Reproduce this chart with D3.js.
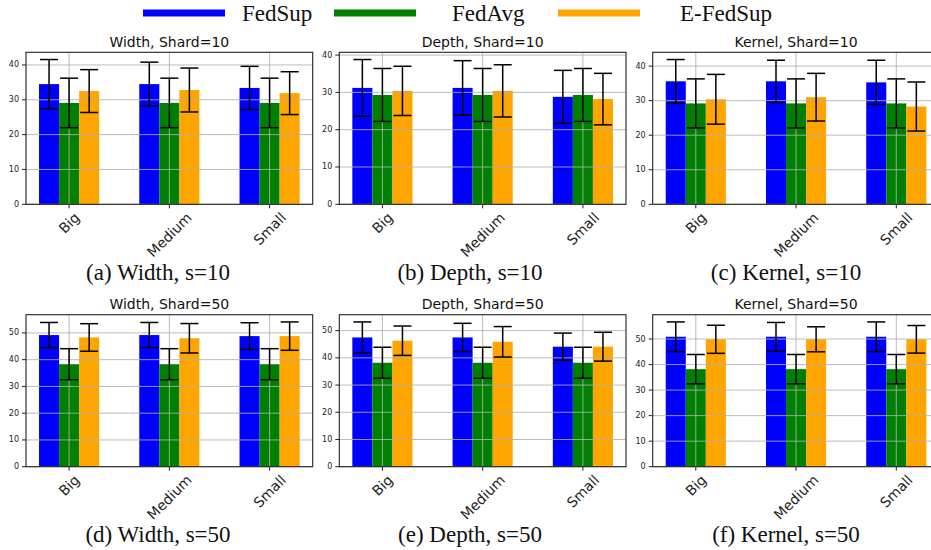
<!DOCTYPE html>
<html>
<head>
<meta charset="utf-8">
<script src="https://cdn.jsdelivr.net/npm/d3@7"></script>
<style>
body{margin:0;background:#fff;}
svg{display:block;}
</style>
</head>
<body>
<svg width="931" height="550"></svg>
<script>
// categories and series
var kategorie = ["Big", "Medium", "Small"];
var serie = ["FedSup", "FedAvg", "E-FedSup"];
var kolory = ["#0000ff", "#008000", "#ffa500"];

// mean values, one row per series (FedSup, FedAvg, E-FedSup), columns Big/Medium/Small
var width10 = [[34.5, 34.5, 33.4], [29.1, 29.1, 29.1], [32.5, 32.8, 31.9]];
var width10Err = [[7.05, 6.3, 6.2], [7.1, 7.1, 7.1], [6.15, 6.3, 6.15]];
var depth10 = [[31.2, 31.2, 28.8], [29.3, 29.3, 29.3], [30.4, 30.4, 28.2]];
var depth10Err = [[7.6, 7.3, 7.1], [7.1, 7.1, 7.1], [6.6, 7.0, 6.9]];
var kernel10 = [[35.6, 35.6, 35.3], [29.2, 29.2, 29.2], [30.4, 31.0, 28.3]];
var kernel10Err = [[6.3, 6.1, 6.4], [7.1, 7.1, 7.1], [7.2, 6.9, 7.1]];
var width50 = [[49.2, 49.2, 48.8], [38.3, 38.3, 38.3], [48.3, 48.0, 48.8]];
var width50Err = [[4.7, 4.7, 5.0], [5.8, 5.8, 5.8], [5.15, 5.5, 5.3]];
var depth50 = [[47.5, 47.5, 44.1], [38.2, 38.2, 38.2], [46.3, 45.9, 44.1]];
var depth50Err = [[5.7, 5.2, 5.0], [5.7, 5.7, 5.7], [5.4, 5.6, 5.3]];
var kernel50 = [[50.9, 50.9, 50.9], [38.2, 38.2, 38.2], [49.9, 49.9, 49.9]];
var kernel50Err = [[5.8, 5.6, 5.8], [5.75, 5.75, 5.75], [5.5, 4.9, 5.4]];

var tytuly = ["Width, Shard=10", "Depth, Shard=10", "Kernel, Shard=10",
              "Width, Shard=50", "Depth, Shard=50", "Kernel, Shard=50"];
var podpisy = ["(a) Width, s=10", "(b) Depth, s=10", "(c) Kernel, s=10",
               "(d) Width, s=50", "(e) Depth, s=50", "(f) Kernel, s=50"];
var yTicks10 = [0, 10, 20, 30, 40];
var yTicks50 = [0, 10, 20, 30, 40, 50];

var svg = d3.select("svg");

var lewe = [26, 339.3, 652.7];   // left edge of each column
var gory = [52.3, 314.7];        // top of each row
var szer = 286.7, wys = 152;
var srodkiPodpisow = [158, 470, 786];
var bazyPodpisow = [280, 542];

var panele = [
	[width10, width10Err, yTicks10], [depth10, depth10Err, yTicks10], [kernel10, kernel10Err, yTicks10],
	[width50, width50Err, yTicks50], [depth50, depth50Err, yTicks50], [kernel50, kernel50Err, yTicks50]
];

function panel(nr){
	var kol = nr % 3, wiersz = Math.floor(nr / 3);
	var sr = panele[nr][0], bl = panele[nr][1], ticks = panele[nr][2];
	var x0 = lewe[kol], y0 = gory[wiersz];
	var g = svg.append("g").attr("transform", "translate(" + x0 + "," + y0 + ")");

	// matplotlib-like autoscale: 5% margin on top of the highest error bar
	var maxY = d3.max(sr.map(function(s, i){ return d3.max(s.map(function(v, j){ return v + bl[i][j]; })); }));
	var y = d3.scaleLinear().domain([0, maxY * 1.05]).range([wys, 0]);
	var bw = 0.2;
	var x = d3.scaleLinear().domain([-1.5 * bw - 0.13, 2 + 1.5 * bw + 0.13]).range([0, szer]);

	// bars
	for(let s = 0; s < serie.length; s++){
		g.selectAll(".bar" + s)
			.data(sr[s])
			.enter()
			.append("rect")
			.attr("x", function(d, j){ return x(j + (s - 1) * bw - bw / 2); })
			.attr("width", x(bw) - x(0))
			.attr("y", function(d){ return y(d); })
			.attr("height", function(d){ return y(0) - y(d); })
			.style("fill", kolory[s]);
	}

	// grid on top of the bars
	g.selectAll(".gy").data(ticks).enter().append("line")
		.attr("x1", 0).attr("x2", szer)
		.attr("y1", function(d){ return y(d); }).attr("y2", function(d){ return y(d); })
		.style("stroke", "#b0b0b0").style("stroke-width", "1px").style("opacity", 0.85);
	g.selectAll(".gx").data(kategorie).enter().append("line")
		.attr("x1", function(d, j){ return x(j); }).attr("x2", function(d, j){ return x(j); })
		.attr("y1", 0).attr("y2", wys)
		.style("stroke", "#b0b0b0").style("stroke-width", "1px").style("opacity", 0.85);

	// error bars
	for(let s = 0; s < serie.length; s++){
		for(let j = 0; j < kategorie.length; j++){
			var cx = x(j + (s - 1) * bw);
			var top = y(sr[s][j] + bl[s][j]), bot = y(sr[s][j] - bl[s][j]);
			g.append("line").attr("x1", cx).attr("x2", cx).attr("y1", top).attr("y2", bot)
				.style("stroke", "black").style("stroke-width", "1.5px");
			g.append("line").attr("x1", cx - 9).attr("x2", cx + 9).attr("y1", top).attr("y2", top)
				.style("stroke", "black").style("stroke-width", "1.5px");
			g.append("line").attr("x1", cx - 9).attr("x2", cx + 9).attr("y1", bot).attr("y2", bot)
				.style("stroke", "black").style("stroke-width", "1.5px");
		}
	}

	// frame
	g.append("rect").attr("x", 0).attr("y", 0).attr("width", szer).attr("height", wys)
		.style("fill", "none").style("stroke", "#222").style("stroke-width", "1.1px");

	// y axis ticks + labels
	for(let i = 0; i < ticks.length; i++){
		g.append("line").attr("x1", -4).attr("x2", 0).attr("y1", y(ticks[i])).attr("y2", y(ticks[i]))
			.style("stroke", "#222").style("stroke-width", "1px");
		g.append("text")
			.attr("x", -7)
			.attr("y", y(ticks[i]))
			.attr("text-anchor", "end")
			.attr("dominant-baseline", "central")
			.attr("font-family", "DejaVu Sans")
			.attr("font-size", 8)
			.attr("fill", "#222")
			.text(ticks[i]);
	}

	// x axis ticks + rotated labels (45 deg, centred under the tick)
	for(let j = 0; j < kategorie.length; j++){
		g.append("line").attr("x1", x(j)).attr("x2", x(j)).attr("y1", wys).attr("y2", wys + 4)
			.style("stroke", "#222").style("stroke-width", "1px");
		var t = g.append("text")
			.attr("text-anchor", "middle")
			.attr("dominant-baseline", "central")
			.attr("font-family", "DejaVu Sans")
			.attr("font-size", 14)
			.attr("fill", "#222")
			.text(kategorie[j]);
		var w = t.node().getComputedTextLength();
		var h = 14 * 0.95;
		var half = (w + h) / (2 * Math.SQRT2);
		t.attr("transform", "translate(" + x(j) + "," + (wys + 6 + half) + ") rotate(-45)");
	}

	// title
	g.append("text")
		.attr("x", szer / 2)
		.attr("y", -5.5)
		.attr("text-anchor", "middle")
		.attr("font-family", "DejaVu Sans")
		.attr("font-size", 14)
		.attr("fill", "#111")
		.text(tytuly[nr]);

	// caption under subfigure
	svg.append("text")
		.attr("x", srodkiPodpisow[kol])
		.attr("y", bazyPodpisow[wiersz])
		.attr("text-anchor", "middle")
		.attr("font-family", "Liberation Serif")
		.attr("font-size", 23)
		.attr("fill", "#111")
		.text(podpisy[nr]);
}

function legenda(){
	var linieX = [143, 334, 558];
	var tekstX = [242, 452, 680];
	for(let s = 0; s < serie.length; s++){
		svg.append("line")
			.attr("x1", linieX[s]).attr("x2", linieX[s] + 82)
			.attr("y1", 13).attr("y2", 13)
			.style("stroke", kolory[s]).style("stroke-width", "7px");
		svg.append("text")
			.attr("x", tekstX[s])
			.attr("y", 21)
			.attr("font-family", "Liberation Serif")
			.attr("font-size", 23)
			.attr("fill", "#111")
			.text(serie[s]);
	}
}

for(let i = 0; i < 6; i++) panel(i);
legenda();
</script>
</body>
</html>
